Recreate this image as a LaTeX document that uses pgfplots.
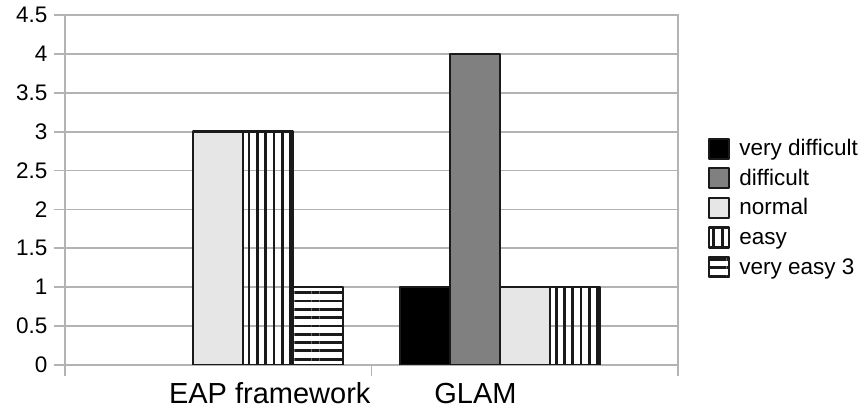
\documentclass[border=0pt]{standalone}
\usepackage{pgfplots}
\pgfplotsset{compat=1.18}
\usepackage{fontspec}
\setmainfont{Liberation Sans}
\usetikzlibrary{patterns.meta}

\definecolor{gridgray}{HTML}{B3B3B3}
\definecolor{bargray}{HTML}{808080}
\definecolor{barlight}{HTML}{E6E6E6}
\definecolor{edge}{HTML}{1A1A1A}

\begin{document}
\begin{tikzpicture}
\begin{axis}[
    scale only axis,
    width=613pt, height=350pt,
    ybar=0pt, bar width=50pt,
    xmin=-0.5, xmax=1.5,
    ymin=0, ymax=4.5,
    ytick={0,0.5,1,1.5,2,2.5,3,3.5,4,4.5},
    xtick={-0.5,0.5,1.5},
    xticklabels={,,},
    extra x ticks={0.168,0.839},
    extra x tick labels={EAP framework,GLAM},
    extra x tick style={major tick length=0pt, grid=none,
        ticklabel style={font=\fontsize{29}{34}\selectfont, anchor=base, yshift=-38pt}},
    tick pos=left,
    tick align=outside,
    major tick length=11pt,
    ymajorgrids=true,
    grid style={gridgray, line width=1.8pt},
    axis line style={gridgray, line width=1.8pt},
    tick style={gridgray, line width=1.8pt},
    /pgf/number format/assume math mode=true,
    yticklabel style={font=\fontsize{22.5}{27}\selectfont, xshift=-3pt},
    every axis plot/.append style={draw=edge, line width=2.4pt, line join=round},
    legend image code/.code={\draw[#1, line width=2.2pt] (0pt,-3pt) rectangle (20pt,17pt);},
    legend style={draw=none, fill=none, inner sep=0pt,
        at={(1.049,0.447)}, anchor=west,
        font=\fontsize{22.5}{27}\selectfont,
        row sep=6pt, column sep=9pt,
        nodes={inner sep=0pt, text height=17pt, text depth=5.5pt},
        cells={anchor=base west}},
]
    \path (rel axis cs:0,0) coordinate (o);

    \addplot[fill=black] coordinates {(1,1)};
    \addlegendentry{very difficult}

    \addplot[fill=bargray] coordinates {(1,4)};
    \addlegendentry{difficult}

    \addplot[fill=barlight] coordinates {(0,3) (1,1)};
    \addlegendentry{normal}

    \addplot[pattern={Lines[angle=90, distance=8.3pt, line width=2.8pt]}, pattern color=edge]
        coordinates {(0,3) (1,1)};
    \addlegendentry{easy}

    \addplot[pattern={Lines[angle=0, distance=8.3pt, line width=2.8pt]}, pattern color=edge]
        coordinates {(0,1)};
    \addlegendentry{very easy 3}
\end{axis}
\pgfresetboundingbox
\path (o) ++(-65pt,-44pt) rectangle ++(864pt,409pt);
\end{tikzpicture}
\end{document}
